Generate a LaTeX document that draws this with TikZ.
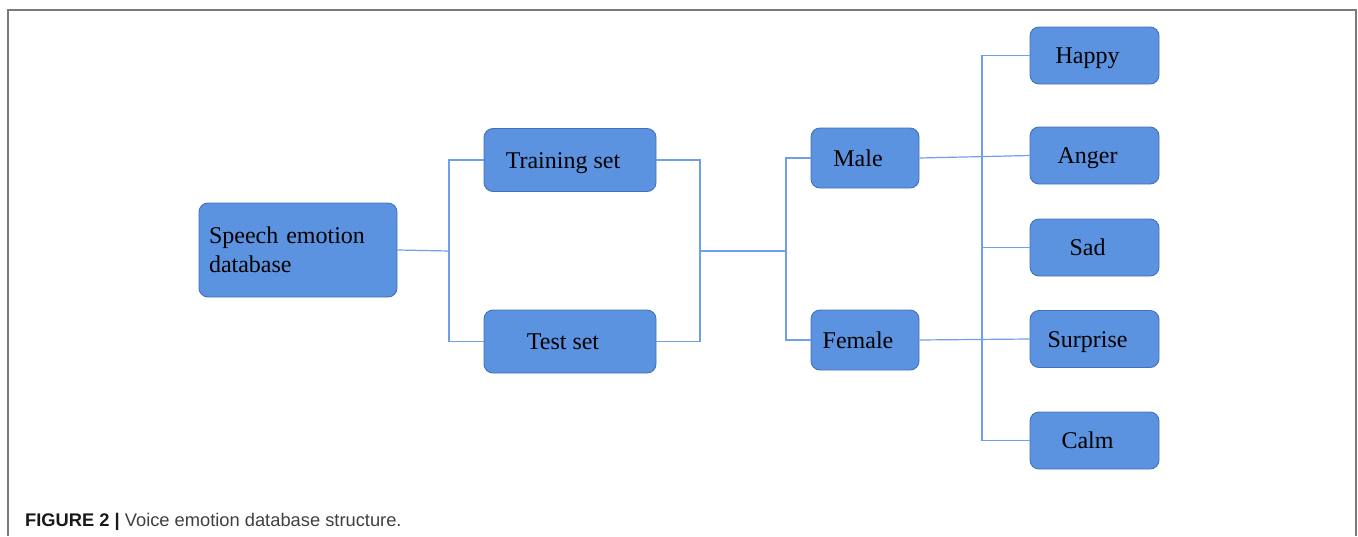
\documentclass[tikz,border=0pt]{standalone}
\usepackage{fontspec}
\setmainfont{Liberation Serif}
\newfontfamily\capfont{Liberation Sans}
\definecolor{boxfill}{HTML}{5B93E0}
\definecolor{boxline}{HTML}{4670B8}
\definecolor{linkline}{HTML}{6EA0EA}
\definecolor{framegray}{HTML}{7A7A7A}
\begin{document}
\begin{tikzpicture}[x=1pt, y=-1pt,
        box/.style = {draw = boxline, fill = boxfill, rounded corners = 9pt, line width = 0.9pt,
            inner sep = 0pt, font = \fontsize{24}{29}\selectfont},
        label box/.style = {box, text height = 18pt, text depth = 2pt, execute at end node = {\kern14pt}},
        level 1/.style = {label box, minimum width = 172pt, minimum height = 63pt},
        level 2/.style = {label box, minimum width = 108pt, minimum height = 60pt},
        level 3/.style = {label box, minimum width = 129pt, minimum height = 57pt},
        link/.style = {draw = linkline, line width = 1.2pt}
        ]
        \useasboundingbox (0,0) rectangle (1358,536);
        \draw[framegray, line width = 1.6pt] (8,536) -- (8,10) -- (1356,10) -- (1356,536);

        \node[box, minimum width = 198pt, minimum height = 94pt, text width = 178pt, align = left] (db) at (298,250) {Speech emotion\\database};
        \node[level 1] (train) at (570,160) {Training set};
        \node[level 1] (test) at (570,341.5) {Test set};
        \node[level 2] (male) at (865,158) {Male};
        \node[level 2] (female) at (865,340) {Female};
        \node[level 3] (happy) at (1094.5,55.5) {Happy};
        \node[level 3] (anger) at (1094.5,155.5) {Anger};
        \node[level 3] (sad) at (1094.5,247.5) {Sad};
        \node[level 3] (surprise) at (1094.5,339) {Surprise};
        \node[level 3] (calm) at (1094.5,440.5) {Calm};

        \coordinate (split) at (449,251);
        \coordinate (join) at (700,251);
        \coordinate (gender) at (786,251);
        \coordinate (emo) at (982,247.5);

        \draw[link] (db.east) -- (split);
        \draw[link] (train.west) -| (split);
        \draw[link] (test.west) -| (split);
        \draw[link] (train.east) -| (join);
        \draw[link] (test.east) -| (join);
        \draw[link] (join) -- (gender);
        \draw[link] (male.west) -| (gender);
        \draw[link] (female.west) -| (gender);
        \draw[link] (male.east) -- (anger.west);
        \draw[link] (female.east) -- (surprise.west);
        \draw[link] (happy.west) -| (emo);
        \draw[link] (calm.west) -| (emo);
        \draw[link] (sad.west) -- (emo);

        \node[anchor = base west, inner sep = 0pt, text = black!75, font = \capfont\fontsize{18.3}{22}\selectfont] (caption) at (25,526)
            {\textcolor{black!90}{\textbf{FIGURE 2 |}} Voice emotion database structure.};
    \end{tikzpicture}
\end{document}
